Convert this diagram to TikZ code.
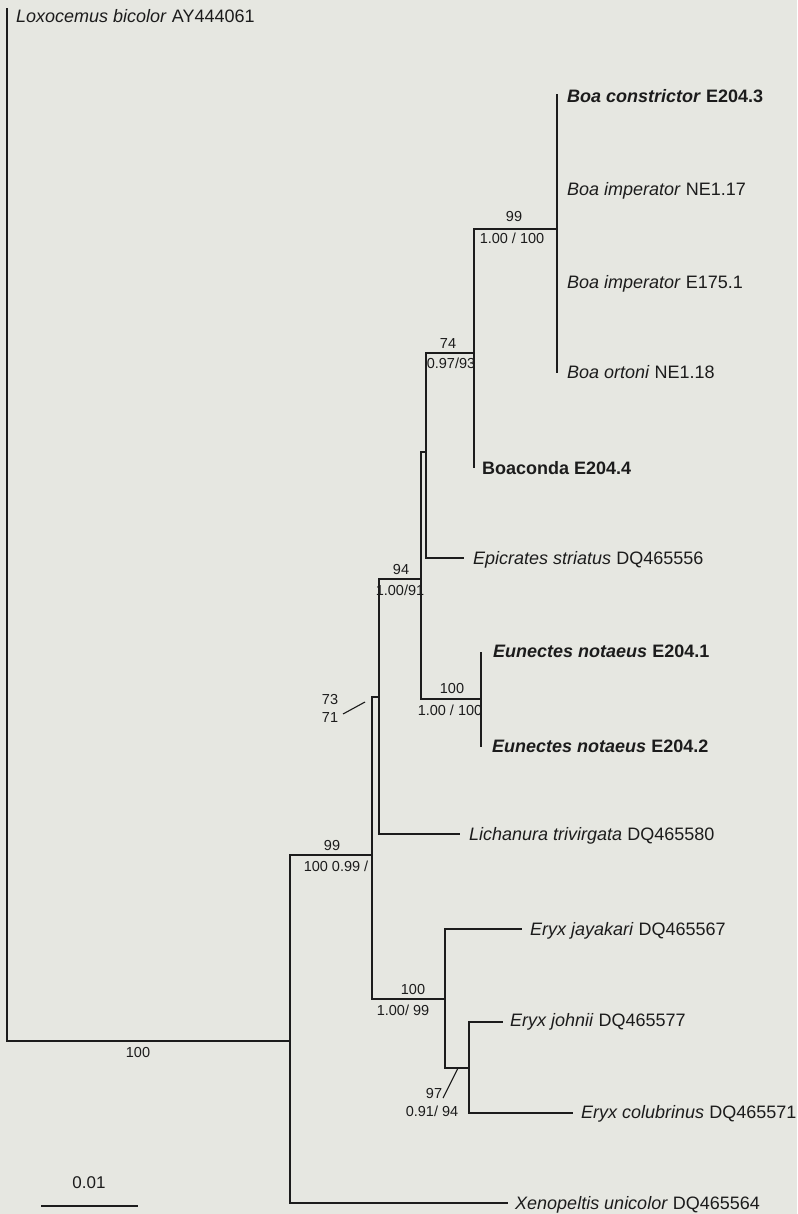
\documentclass[tikz,border=0pt]{standalone}
\usepackage{fontspec}
\setmainfont{Liberation Sans}
\definecolor{bg}{RGB}{230,231,225}
\definecolor{ink}{RGB}{28,28,28}
\begin{document}
\begin{tikzpicture}[x=1pt,y=-1pt,
  br/.style={draw=ink, line width=1.3pt, line cap=rect},
  lead/.style={draw=ink, line width=1.1pt},
  tip/.style={anchor=base west, inner sep=0pt, text=ink, font=\fontsize{18}{21}\selectfont},
  sup/.style={anchor=base, inner sep=0pt, text=ink, font=\fontsize{14.5}{17}\selectfont}]
\fill[bg] (0,0) rectangle (797,1214);
\useasboundingbox (0,0) rectangle (797,1214);

% internal nodes
\coordinate (R) at (7,1041);
\coordinate (A) at (290,1041);
\coordinate (B) at (372,855);
\coordinate (C) at (379,697);
\coordinate (D) at (421,579);
\coordinate (E) at (426,452);
\coordinate (F) at (474,353);
\coordinate (G) at (557,229);
\coordinate (H) at (481,699);
\coordinate (I) at (445,999);
\coordinate (J) at (469,1068);
% tips (branch ends)
\coordinate (tLox) at (7,9);
\coordinate (tBc) at (557,95);
\coordinate (tBi1) at (557,190);
\coordinate (tBi2) at (557,282);
\coordinate (tBo) at (557,372);
\coordinate (tBa) at (474,467);
\coordinate (tEp) at (463,558);
\coordinate (tEn1) at (481,653);
\coordinate (tEn2) at (481,746);
\coordinate (tLi) at (459,834);
\coordinate (tEj) at (521,929);
\coordinate (tEjo) at (502,1022);
\coordinate (tEc) at (572,1113);
\coordinate (tXe) at (507,1203);

% branches
\draw[br] (R) |- (tLox);
\draw[br] (R) |- (A);
\draw[br] (A) |- (B);
\draw[br] (A) |- (tXe);
\draw[br] (B) |- (C);
\draw[br] (B) |- (I);
\draw[br] (C) |- (D);
\draw[br] (C) |- (tLi);
\draw[br] (D) |- (E);
\draw[br] (D) |- (H);
\draw[br] (E) |- (F);
\draw[br] (E) |- (tEp);
\draw[br] (F) |- (G);
\draw[br] (F) |- (tBa);
\draw[br] (G) |- (tBc);
\draw[br] (G) |- (tBo);
\draw[br] (H) |- (tEn1);
\draw[br] (H) |- (tEn2);
\draw[br] (I) |- (tEj);
\draw[br] (I) |- (J);
\draw[br] (J) |- (tEjo);
\draw[br] (J) |- (tEc);

% tip labels
\node[tip] (lLox) at (16,23) {\textit{Loxocemus bicolor} AY444061};
\node[tip] (lBc) at (567,103) {\textbf{\textit{Boa constrictor} E204.3}};
\node[tip] (lBi1) at (567,196) {\textit{Boa imperator} NE1.17};
\node[tip] (lBi2) at (567,288) {\textit{Boa imperator} E175.1};
\node[tip] (lBo) at (567,378) {\textit{Boa ortoni} NE1.18};
\node[tip] (lBa) at (482,474) {\textbf{Boaconda E204.4}};
\node[tip] (lEp) at (473,564) {\textit{Epicrates striatus} DQ465556};
\node[tip] (lEn1) at (493,657) {\textbf{\textit{Eunectes notaeus} E204.1}};
\node[tip] (lEn2) at (492,752) {\textbf{\textit{Eunectes notaeus} E204.2}};
\node[tip] (lLi) at (469,840) {\textit{Lichanura trivirgata} DQ465580};
\node[tip] (lEj) at (530,935) {\textit{Eryx jayakari} DQ465567};
\node[tip] (lEjo) at (510,1026) {\textit{Eryx johnii} DQ465577};
\node[tip] (lEc) at (581,1118) {\textit{Eryx colubrinus} DQ465571};
\node[tip] (lXe) at (515,1209) {\textit{Xenopeltis unicolor} DQ465564};

% support values
\node[sup] (sG1) at (514,222) {99};
\node[sup] (sG2) at (512,244) {1.00 / 100};
\node[sup] (sF1) at (448,348) {74};
\node[sup] (sF2) at (451,368) {0.97/93};
\node[sup] (sD1) at (401,574) {94};
\node[sup] (sD2) at (400,595) {1.00/91};
\node[sup] (sH1) at (452,693) {100};
\node[sup] (sH2) at (450,715) {1.00 / 100};
\node[sup] (sC1) at (330,704) {73};
\node[sup] (sC2) at (330,722) {71};
\node[sup] (sB1) at (332,850) {99};
\node[sup] (sB2) at (336,871) {100 0.99 /};
\node[sup] (sI1) at (413,994) {100};
\node[sup] (sI2) at (403,1015) {1.00/ 99};
\node[sup] (sJ1) at (434,1098) {97};
\node[sup] (sJ2) at (432,1116) {0.91/ 94};
\node[sup] (sA) at (138,1057) {100};

% leader lines
\coordinate (lc1) at (343,714);
\coordinate (lc2) at (365,702);
\draw[lead] (lc1) -- (lc2);
\coordinate (lj1) at (443,1098);
\coordinate (lj2) at (458,1068);
\draw[lead] (lj1) -- (lj2);

% scale bar
\coordinate (sbL) at (42,1206);
\coordinate (sbR) at (137,1206);
\draw[br] (sbL) -- (sbR);
\node[anchor=base, inner sep=0pt, text=ink, font=\fontsize{17}{20}\selectfont] (sbT) at (89,1188) {0.01};
\end{tikzpicture}
\end{document}
